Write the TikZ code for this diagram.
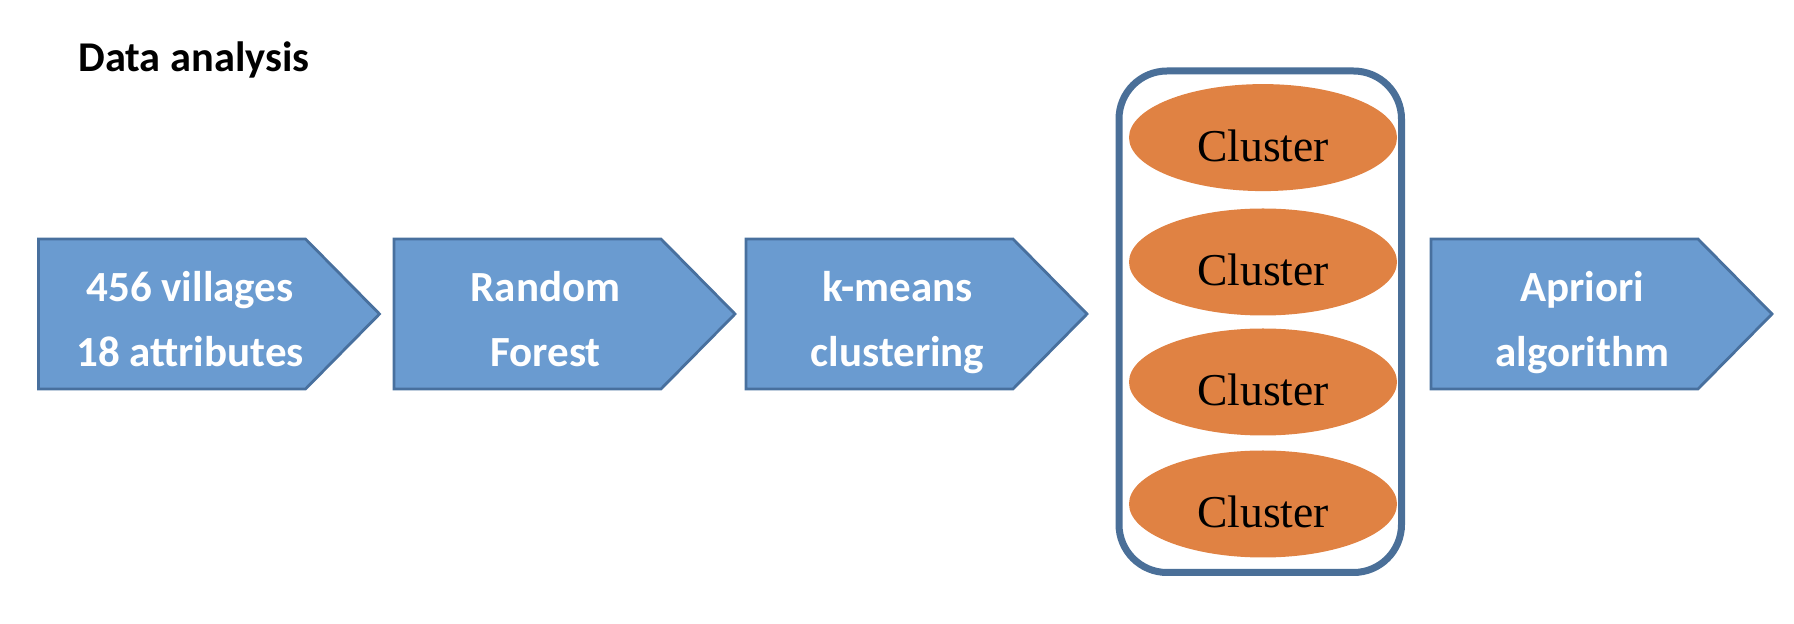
\documentclass[tikz,border=0pt]{standalone}
\usepackage{fontspec}
\setmainfont{Carlito}
\newfontfamily\clfont{Liberation Serif}
\definecolor{boxfill}{RGB}{106,155,208}
\definecolor{boxline}{RGB}{72,112,158}
\definecolor{clfill}{RGB}{224,130,67}
\definecolor{frameline}{RGB}{74,111,152}
\tikzset{
  stepbox/.style={fill=boxfill,draw=boxline,line width=1.4pt,line join=miter},
  steptext/.style={anchor=base,inner sep=0pt,text=white,font=\fontsize{21.5}{25}\selectfont\bfseries},
  clnode/.style={ellipse,fill=clfill,minimum width=134pt,minimum height=53.5pt,inner sep=0pt},
  cltext/.style={anchor=base,inner sep=0pt,font=\clfont\fontsize{22.8}{26}\selectfont},
  frame/.style={draw=frameline,line width=3.5pt,rounded corners=24pt}
}
\usetikzlibrary{shapes.geometric}
\begin{document}
\begin{tikzpicture}[x=0.5pt,y=-0.5pt]
\useasboundingbox (0,0) rectangle (1794,624);
\node[anchor=base west,inner sep=0pt,font=\fontsize{21.2}{24}\selectfont\bfseries] (title) at (78,72) {Data analysis};
% pentagon steps
\foreach \L/\n in {38.5/1,394/2,746/3,1431/4}{
  \draw[stepbox] (\L,239) coordinate (s\n) -- ++(267,0) -- ++(74,75) -- ++(-74,75) -- ++(-267,0) -- cycle;
}
\node[steptext] (t1a) at (190,302) {456 villages};
\node[steptext] (t1b) at (190,367) {18 attributes};
\node[steptext] (t2a) at (545.5,302) {Random};
\node[steptext] (t2b) at (545.5,367) {Forest};
\node[steptext] (t3a) at (897.5,302) {k-means};
\node[steptext] (t3b) at (897.5,367) {clustering};
\node[steptext] (t4a) at (1582.5,302) {Apriori};
\node[steptext] (t4b) at (1582.5,367) {algorithm};
% frame of clusters
\draw[frame] (1119,71) rectangle (1401.5,572.5);
\foreach \y/\n in {137.6/1,262/2,382/3,504/4}{
  \node[clnode] (c\n) at (1263,\y) {};
  \node[cltext] (ct\n) at (1263,\y+23.5) {Cluster};
}
\end{tikzpicture}
\end{document}
